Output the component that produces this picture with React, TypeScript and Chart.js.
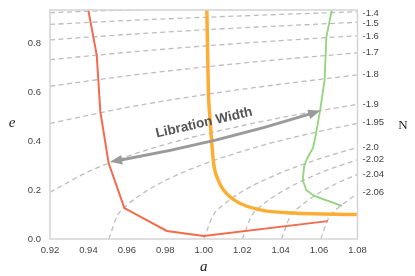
import React, { useEffect, useRef } from 'react';
import { Chart, registerables } from 'chart.js';

Chart.register(...registerables);

// ---- axis ticks ----
const xTickValues = [0.92, 0.94, 0.96, 0.98, 1.0, 1.02, 1.04, 1.06, 1.08];
const yTickValues = [0.0, 0.2, 0.4, 0.6, 0.8];
// right axis: N labels at the e where each contour leaves the right edge
const nTickE = [0.923, 0.881, 0.827, 0.762, 0.674, 0.551, 0.476, 0.375, 0.327, 0.265, 0.192];
const nTickLabels = ['-1.4', '-1.5', '-1.6', '-1.7', '-1.8', '-1.9', '-1.95', '-2.0', '-2.02', '-2.04', '-2.06'];

// ---- dashed constant-N contours, [a, e] ----
const contourN130 = [[0.92, 0.924], [0.94, 0.93], [0.96, 0.935], [0.98, 0.94]];
const contourN140 = [[0.92, 0.876], [0.96, 0.892], [1.0, 0.905], [1.04, 0.917], [1.08, 0.928]];
const contourN150 = [[0.92, 0.813], [0.96, 0.835], [1.0, 0.854], [1.04, 0.87], [1.08, 0.885]];
const contourN160 = [[0.92, 0.732], [0.96, 0.762], [1.0, 0.788], [1.04, 0.81], [1.08, 0.83]];
const contourN170 = [[0.92, 0.624], [0.96, 0.666], [1.0, 0.702], [1.04, 0.733], [1.08, 0.76]];
const contourN180 = [[0.92, 0.472], [0.96, 0.537], [1.0, 0.589], [1.04, 0.632], [1.08, 0.67]];
const contourN190 = [[0.92, 0.191], [0.94, 0.275], [0.96, 0.337], [0.98, 0.386], [1.0, 0.427], [1.04, 0.495], [1.08, 0.55]];
const contourN195 = [[0.9506, 0], [0.955, 0.094], [0.96, 0.137], [0.97, 0.195], [0.98, 0.239], [1.0, 0.306], [1.02, 0.358], [1.04, 0.402], [1.06, 0.439], [1.08, 0.472]];
const contourN200 = [[1.0, 0], [1.005, 0.098], [1.01, 0.138], [1.02, 0.194], [1.04, 0.27], [1.06, 0.327], [1.08, 0.374]];
const contourN202 = [[1.0201, 0], [1.025, 0.096], [1.03, 0.136], [1.04, 0.191], [1.06, 0.268], [1.08, 0.324]];
const contourN204 = [[1.0404, 0], [1.045, 0.092], [1.05, 0.132], [1.06, 0.188], [1.07, 0.23], [1.08, 0.264]];
const contourN206 = [[1.0609, 0], [1.065, 0.086], [1.07, 0.128], [1.075, 0.158], [1.08, 0.184]];

// ---- coloured curves ----
const redA = [0.9398, 0.9443, 0.9462, 0.9505, 0.9587, 0.9808, 1.0, 1.0645];
const redE = [0.94, 0.752, 0.52, 0.31, 0.126, 0.033, 0.012, 0.073];
const orangeA = [1.0016, 1.0024, 1.0033, 1.0051, 1.0075, 1.0103, 1.0172, 1.0294, 1.0467, 1.0797];
const orangeE = [0.94, 0.609, 0.487, 0.311, 0.241, 0.2, 0.1526, 0.119, 0.106, 0.1];
const greenA = [1.0667, 1.0638, 1.0629, 1.0606, 1.0585, 1.0568, 1.0539, 1.0523, 1.0515, 1.0533, 1.0575, 1.0719];
const greenE = [0.937, 0.824, 0.65, 0.528, 0.434, 0.371, 0.331, 0.299, 0.241, 0.2, 0.176, 0.135];

// ---- annotation (data coords) ----
const arrowFrom = [0.9513, 0.315];
const arrowTo = [1.0606, 0.5235];
const arrowLabel = 'Libration Width';
const arrowLabelAt = [1.0002, 0.474];

const X_MIN = 0.92, X_MAX = 1.08, Y_MIN = 0, Y_MAX = 0.935;

const pairs = (arr: number[][]) => arr.map(([x, y]) => ({ x, y }));
const zip = (a: number[], e: number[]) => a.map((x, i) => ({ x, y: e[i] }));

const contours = [contourN130, contourN140, contourN150, contourN160, contourN170, contourN180,
  contourN190, contourN195, contourN200, contourN202, contourN204, contourN206];

const decor = {
  id: 'decor',
  afterDatasetsDraw(chart: any) {
    const { ctx, chartArea: ca, scales } = chart;
    const xs = scales.x, ys = scales.y;
    // frame
    ctx.save();
    ctx.strokeStyle = '#d4d4d4';
    ctx.lineWidth = 1.5;
    ctx.strokeRect(ca.left, ca.top, ca.right - ca.left, ca.bottom - ca.top);
    ctx.restore();

    // arrow
    const x0 = xs.getPixelForValue(arrowFrom[0]), y0 = ys.getPixelForValue(arrowFrom[1]);
    const x1 = xs.getPixelForValue(arrowTo[0]), y1 = ys.getPixelForValue(arrowTo[1]);
    const dx = x1 - x0, dy = y1 - y0;
    const len = Math.hypot(dx, dy);
    const ux = dx / len, uy = dy / len;
    const nx = -uy, ny = ux; // normal
    const sag = 7;
    const cx = (x0 + x1) / 2 + nx * sag * (ny > 0 ? 1 : -1);
    const cy = (y0 + y1) / 2 + Math.abs(ny) * sag;
    const head = 12, hw = 4.8;
    ctx.save();
    ctx.strokeStyle = '#9a9a9a';
    ctx.fillStyle = '#9a9a9a';
    ctx.lineWidth = 3;
    const t0x = cx - x0, t0y = cy - y0; const l0 = Math.hypot(t0x, t0y);
    const t1x = x1 - cx, t1y = y1 - cy; const l1 = Math.hypot(t1x, t1y);
    const a0x = t0x / l0, a0y = t0y / l0, a1x = t1x / l1, a1y = t1y / l1;
    ctx.beginPath();
    ctx.moveTo(x0 + a0x * head * 0.8, y0 + a0y * head * 0.8);
    ctx.quadraticCurveTo(cx, cy, x1 - a1x * head * 0.8, y1 - a1y * head * 0.8);
    ctx.stroke();
    const drawHead = (tx: number, ty: number, dirx: number, diry: number) => {
      ctx.beginPath();
      ctx.moveTo(tx, ty);
      ctx.lineTo(tx - dirx * head - diry * hw, ty - diry * head + dirx * hw);
      ctx.lineTo(tx - dirx * head + diry * hw, ty - diry * head - dirx * hw);
      ctx.closePath();
      ctx.fill();
    };
    drawHead(x1, y1, a1x, a1y);
    drawHead(x0, y0, -a0x, -a0y);
    ctx.restore();

    // label
    const lx = xs.getPixelForValue(arrowLabelAt[0]), ly = ys.getPixelForValue(arrowLabelAt[1]);
    ctx.save();
    ctx.translate(lx, ly);
    ctx.rotate((-12.9 * Math.PI) / 180);
    ctx.font = 'bold 13.5px "Liberation Sans", Arial, sans-serif';
    ctx.fillStyle = '#555555';
    ctx.textAlign = 'center';
    ctx.textBaseline = 'middle';
    ctx.fillText(arrowLabel, 0, 0);
    ctx.restore();
  },
  afterDraw(chart: any) {
    const { ctx, chartArea: ca } = chart;
    ctx.save();
    ctx.fillStyle = '#222222';
    ctx.textAlign = 'center';
    ctx.textBaseline = 'middle';
    ctx.font = 'italic 15px "Liberation Serif", "Times New Roman", serif';
    ctx.fillText('e', ca.left - 38, (ca.top + ca.bottom) / 2 - 1);
    ctx.fillText('a', (ca.left + ca.right) / 2, ca.bottom + 28);
    ctx.font = '13px "Liberation Serif", "Times New Roman", serif';
    ctx.fillText('N', ca.right + 45.5, (ca.top + ca.bottom) / 2 + 1.5);
    ctx.restore();
  },
};

export default function App() {
  const ref = useRef<HTMLCanvasElement>(null);
  useEffect(() => {
    if (!ref.current) return;
    const tickFont = { family: '"Liberation Sans", Arial, sans-serif', size: 9.5 };
    const datasets: any[] = [
      { data: zip(greenA, greenE), borderColor: '#92d47c', borderWidth: 1.8, tension: 0 },
      { data: zip(orangeA, orangeE), borderColor: '#fdad33', borderWidth: 3.5, cubicInterpolationMode: 'monotone' },
      { data: zip(redA, redE), borderColor: '#f36b4c', borderWidth: 2, tension: 0 },
      ...contours.map((c) => ({
        data: pairs(c),
        borderColor: '#bdbdbd',
        borderWidth: 1.3,
        borderDash: [5, 3.5],
        cubicInterpolationMode: 'monotone',
      })),
    ];
    const noPadV = (w: number) => (s: any) => { s.width = w; s.paddingTop = 0; s.paddingBottom = 0; };
    const noGrid = { display: false, drawTicks: false, tickLength: 0 };
    const chart = new Chart(ref.current, {
      type: 'line',
      data: { datasets },
      options: {
        animation: false,
        responsive: false,
        maintainAspectRatio: false,
        parsing: false,
        layout: { padding: { top: 10, left: 0, right: 0, bottom: 0 } },
        elements: { point: { radius: 0 }, line: { fill: false } },
        plugins: { legend: { display: false }, tooltip: { enabled: false } },
        scales: {
          x: {
            type: 'linear', min: X_MIN, max: X_MAX,
            grid: noGrid, border: { display: false },
            afterBuildTicks: (s: any) => { s.ticks = xTickValues.map((v) => ({ value: v })); },
            afterFit: (s: any) => { s.height = 37; s.paddingLeft = 0; s.paddingRight = 0; },
            ticks: { font: tickFont, color: '#444', padding: 6, autoSkip: false, maxRotation: 0,
              callback: (v: any) => Number(v).toFixed(2) },
          },
          y: {
            type: 'linear', min: Y_MIN, max: Y_MAX,
            grid: noGrid, border: { display: false },
            afterBuildTicks: (s: any) => { s.ticks = yTickValues.map((v) => ({ value: v })); },
            afterFit: noPadV(50),
            ticks: { font: tickFont, color: '#444', padding: 9, autoSkip: false,
              callback: (v: any) => Number(v).toFixed(1) },
          },
          y2: {
            type: 'linear', axis: 'y', position: 'right', min: Y_MIN, max: Y_MAX,
            grid: noGrid, border: { display: false },
            afterBuildTicks: (s: any) => { s.ticks = nTickE.map((v) => ({ value: v })); },
            afterFit: noPadV(57.5),
            ticks: { font: tickFont, color: '#444', padding: 5, autoSkip: false,
              callback: (_v: any, i: number) => nTickLabels[i] },
          },
        },
      } as any,
      plugins: [decor],
    });
    return () => chart.destroy();
  }, []);
  return (
    <div style={{ position: 'fixed', left: 0, top: 0, width: 415, height: 276, background: '#fff' }}>
      <canvas ref={ref} width={415} height={276} style={{ width: 415, height: 276, display: 'block' }} />
    </div>
  );
}
